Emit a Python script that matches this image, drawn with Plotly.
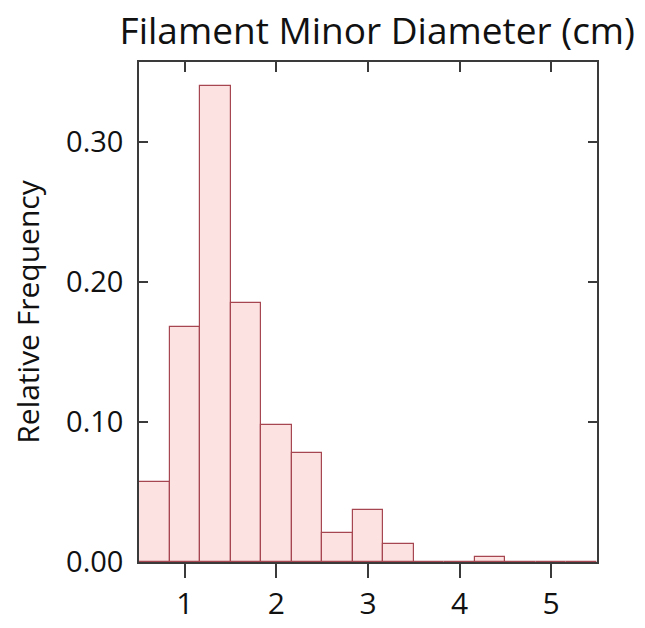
import plotly.graph_objects as go

# Data: relative frequency histogram, bins of width 1/3 starting at 0.5
bin_start = 0.5
bin_width = 1 / 3
rel_freq = [0.057, 0.168, 0.340, 0.185, 0.098, 0.078, 0.021, 0.037, 0.013,
            0.0, 0.0, 0.0036, 0.0, 0.0, 0.0]
x_ticks = [1, 2, 3, 4, 5]
y_ticks = [0.0, 0.1, 0.2, 0.3]
y_tick_labels = ["0.00", "0.10", "0.20", "0.30"]

centers = [bin_start + bin_width * (i + 0.5) for i in range(len(rel_freq))]

FONT = "Open Sans"
AXC = "#3a3a3a"

fig = go.Figure()
fig.add_trace(go.Bar(
    x=centers, y=rel_freq, width=bin_width,
    marker=dict(color="rgb(253,226,226)",
                line=dict(color="rgb(165,70,80)", width=1.2)),
    showlegend=False,
))
# invisible trace to carry the top (inside-tick) axis
fig.add_trace(go.Scatter(
    x=centers, y=rel_freq, xaxis="x2", mode="markers",
    marker=dict(opacity=0), hoverinfo="skip", showlegend=False,
))

fig.update_layout(
    width=645, height=628,
    margin=dict(l=139, r=48, t=62, b=66),
    paper_bgcolor="white", plot_bgcolor="white",
    bargap=0,
    font=dict(family=FONT, color="#111"),
    title=dict(text="Filament Minor Diameter (cm)",
               font=dict(family=FONT, size=37, color="#111"),
               x=0.585, xanchor="center", y=0.951, yanchor="middle"),
    xaxis=dict(range=[0.5, 5.5], tickvals=x_ticks, ticks="outside",
               ticklen=14, tickwidth=1.5, tickcolor=AXC, automargin=False,
               showline=True, linecolor=AXC, linewidth=1.5, mirror=True,
               showgrid=False, zeroline=False,
               tickfont=dict(size=30, family=FONT, color="#111")),
    xaxis2=dict(overlaying="x", side="top", matches="x", range=[0.5, 5.5],
                tickvals=x_ticks, ticks="inside", ticklen=10, tickwidth=1.5,
                tickcolor=AXC, showticklabels=False, showline=False,
                showgrid=False, zeroline=False, automargin=False),
    yaxis=dict(range=[0, 0.357], tickvals=y_ticks, ticktext=y_tick_labels,
               ticks="inside", ticklen=9, tickwidth=1.5, tickcolor=AXC,
               showline=True, linecolor=AXC, linewidth=1.5, mirror="ticks",
               showgrid=False, zeroline=False, ticklabelstandoff=8,
               automargin=False,
               tickfont=dict(size=29, family=FONT, color="#111"),
               title=dict(text="Relative Frequency", standoff=18,
                          font=dict(size=30, family=FONT, color="#111"))),
)

fig.write_html("out.html")
